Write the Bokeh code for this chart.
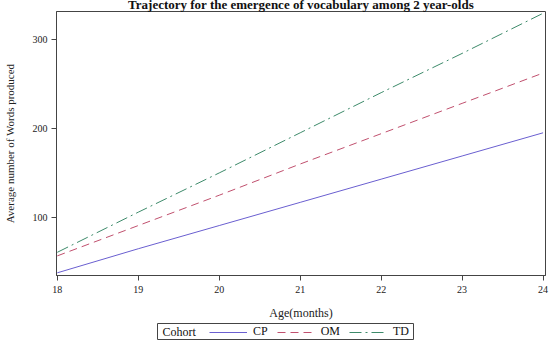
from bokeh.plotting import figure
from bokeh.layouts import column
from bokeh.models import Range1d, Legend, LegendItem, FixedTicker, Label
from bokeh.embed import file_html
from bokeh.resources import INLINE

months = [18, 19, 20, 21, 22, 23, 24]
cp = [38, 65, 91, 117, 143, 169, 195]
om = [57, 91, 125, 160, 194, 228, 262]
td = [61, 106, 150, 195, 240, 284, 329]
x_ticks = [18, 19, 20, 21, 22, 23, 24]
y_ticks = [100, 200, 300]
series_names = ["CP", "OM", "TD"]
legend_title = "Cohort"
title_text = "Trajectory for the emergence of vocabulary among 2 year-olds"
FONT = "Liberation Serif"
COLORS = ["#6a5fd0", "#c0506e", "#3d8a6a"]
DASHES = ["solid", "8 5", "12 4 2 4"]

p = figure(width=549, height=328, output_backend="svg", toolbar_location=None,
           x_range=Range1d(17.99, 24.03), y_range=Range1d(35, 331),
           min_border_left=53, min_border_right=4, min_border_top=0, min_border_bottom=46,
           margin=(-6, 0, 0, 0), frame_align=False)
p.title.text = title_text
p.title.align = "center"
p.title.offset = -8
p.title.standoff = 0
p.title.text_font = FONT
p.title.text_font_size = "13px"
p.title.text_font_style = "bold"
p.title.text_color = "#111111"
p.grid.visible = False
p.outline_line_color = "#444444"
p.outline_line_width = 1
p.border_fill_color = "white"

for ys, c, d in zip([cp, om, td], COLORS, DASHES):
    p.line(months, ys, line_color=c, line_width=1, line_dash=d)

for ax in (p.xaxis[0], p.yaxis[0]):
    ax.axis_line_color = "#444444"
    ax.major_tick_line_color = "#444444"
    ax.minor_tick_line_color = None
    ax.major_tick_out = 5
    ax.major_tick_in = 0
    ax.major_label_text_font = FONT
    ax.major_label_text_font_size = "10px"
    ax.major_label_text_color = "#222222"
    ax.axis_label_text_font = FONT
    ax.axis_label_text_font_style = "normal"
    ax.axis_label_text_color = "#222222"

p.xaxis.axis_label_text_font_size = "12px"
p.yaxis.axis_label_text_font_size = "11px"
p.xaxis.ticker = FixedTicker(ticks=x_ticks)
p.yaxis.ticker = FixedTicker(ticks=y_ticks)
p.xaxis.axis_label = "Age(months)"
p.yaxis.axis_label = "Average number of Words produced"
p.xaxis.major_label_standoff = 5
p.xaxis.axis_label_standoff = 10
p.yaxis.major_label_standoff = 4
p.yaxis.axis_label_standoff = 14

# legend strip: its frame is the legend box
lg = figure(width=549, height=19, output_backend="svg", toolbar_location=None,
            x_range=Range1d(0, 1), y_range=Range1d(0, 1),
            min_border_left=157, min_border_right=136, min_border_top=1, min_border_bottom=2,
            frame_align=False)
lg.axis.visible = False
lg.grid.visible = False
lg.outline_line_color = "#444444"
lg.outline_line_width = 1
lg.border_fill_color = "white"
items = []
for name, ys, c, d in zip(series_names, [cp, om, td], COLORS, DASHES):
    r = lg.line(months, ys, line_color=c, line_width=1, line_dash=d)
    items.append(LegendItem(label=name, renderers=[r]))
legend = Legend(items=items, orientation="horizontal", location=(52, 0),
                label_text_font=FONT, label_text_font_size="12px", label_text_color="#111111",
                glyph_width=38, glyph_height=12, label_standoff=6, spacing=9,
                padding=2, margin=0, border_line_color=None, background_fill_alpha=0,
                label_height=12, label_width=0)
lg.add_layout(legend, "center")
lg.add_layout(Label(x=5, y=8, x_units="screen", y_units="screen", text=legend_title,
                    text_font=FONT, text_font_size="12px", text_baseline="middle",
                    text_color="#111111"))

open("out.html", "w").write(file_html(column(p, lg, spacing=0), INLINE))
